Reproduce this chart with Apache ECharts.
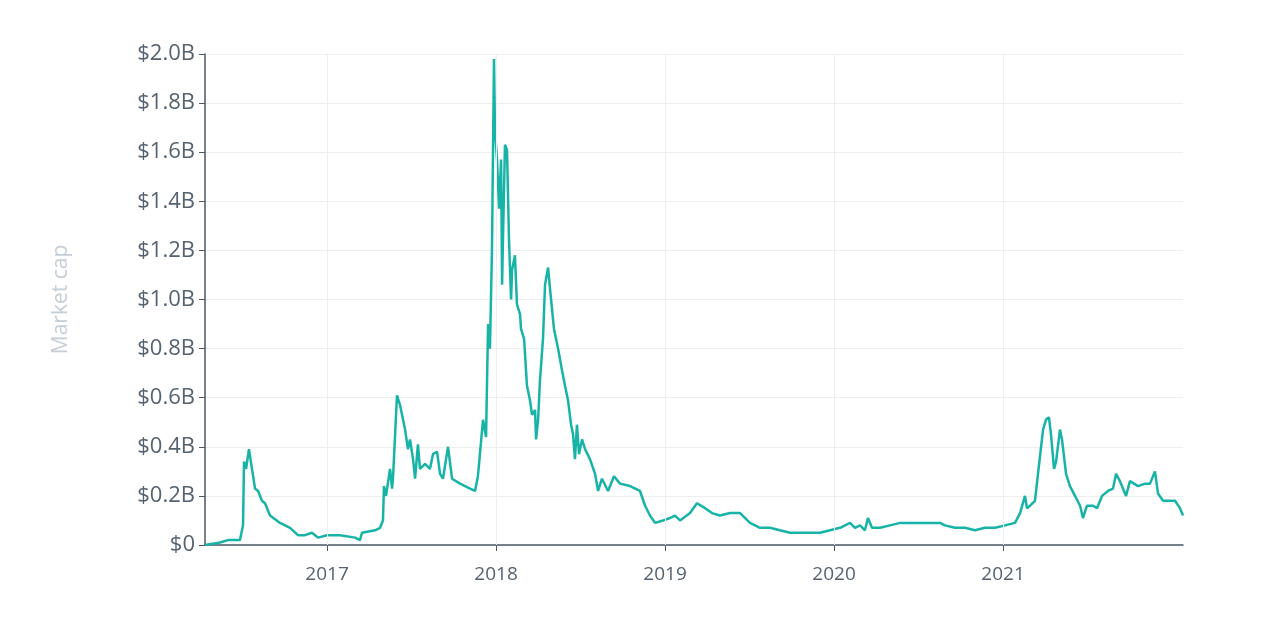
<!DOCTYPE html>
<html>
<head>
<meta charset="utf-8">
<script src="https://cdn.jsdelivr.net/npm/echarts@6/dist/echarts.min.js"></script>
<style>html,body{margin:0;padding:0;background:#fff}#chart{width:1280px;height:640px}</style>
</head>
<body>
<div id="chart"></div>
<script>
// decimal years
var years = [2016.278,2016.367,2016.414,2016.485,2016.503,2016.509,2016.521,2016.538,2016.556,2016.574,2016.592,2016.615,2016.633,2016.663,2016.722,2016.781,2016.828,2016.870,2016.911,2016.947,2017.000,2017.077,2017.166,2017.195,2017.207,2017.284,2017.314,2017.331,2017.337,2017.349,2017.373,2017.385,2017.391,2017.414,2017.432,2017.450,2017.462,2017.479,2017.491,2017.509,2017.521,2017.538,2017.550,2017.580,2017.609,2017.627,2017.651,2017.669,2017.686,2017.716,2017.740,2017.787,2017.846,2017.876,2017.893,2017.923,2017.941,2017.953,2017.964,2017.976,2017.988,2017.994,2018.006,2018.018,2018.030,2018.036,2018.041,2018.053,2018.065,2018.077,2018.089,2018.095,2018.112,2018.124,2018.142,2018.148,2018.166,2018.183,2018.201,2018.213,2018.231,2018.237,2018.249,2018.260,2018.278,2018.290,2018.308,2018.320,2018.343,2018.367,2018.391,2018.408,2018.426,2018.444,2018.456,2018.467,2018.479,2018.491,2018.509,2018.527,2018.556,2018.586,2018.604,2018.627,2018.663,2018.698,2018.734,2018.793,2018.852,2018.882,2018.911,2018.941,2018.988,2019.030,2019.059,2019.089,2019.148,2019.189,2019.237,2019.278,2019.325,2019.385,2019.444,2019.503,2019.562,2019.621,2019.680,2019.740,2019.799,2019.858,2019.917,2019.976,2020.036,2020.095,2020.124,2020.154,2020.183,2020.201,2020.225,2020.272,2020.331,2020.391,2020.450,2020.509,2020.568,2020.627,2020.657,2020.716,2020.775,2020.834,2020.893,2020.953,2021.012,2021.071,2021.101,2021.130,2021.142,2021.160,2021.189,2021.207,2021.237,2021.254,2021.272,2021.284,2021.302,2021.314,2021.337,2021.349,2021.373,2021.396,2021.426,2021.456,2021.473,2021.497,2021.533,2021.556,2021.586,2021.621,2021.651,2021.669,2021.692,2021.728,2021.751,2021.799,2021.840,2021.870,2021.899,2021.917,2021.947,2021.988,2022.018,2022.047,2022.065];
// market cap, billions of USD
var marketCap = [0.00,0.01,0.02,0.02,0.08,0.34,0.31,0.39,0.31,0.23,0.22,0.18,0.17,0.12,0.09,0.07,0.04,0.04,0.05,0.03,0.04,0.04,0.03,0.02,0.05,0.06,0.07,0.10,0.24,0.20,0.31,0.23,0.28,0.61,0.57,0.51,0.47,0.39,0.43,0.35,0.27,0.41,0.31,0.33,0.31,0.37,0.38,0.29,0.27,0.40,0.27,0.25,0.23,0.22,0.28,0.51,0.44,0.90,0.80,1.20,1.98,1.69,1.57,1.37,1.57,1.06,1.24,1.63,1.61,1.24,1.00,1.12,1.18,0.98,0.94,0.88,0.84,0.65,0.59,0.53,0.55,0.43,0.51,0.67,0.84,1.06,1.13,1.04,0.88,0.80,0.71,0.65,0.59,0.49,0.45,0.35,0.49,0.37,0.43,0.39,0.35,0.29,0.22,0.27,0.22,0.28,0.25,0.24,0.22,0.16,0.12,0.09,0.10,0.11,0.12,0.10,0.13,0.17,0.15,0.13,0.12,0.13,0.13,0.09,0.07,0.07,0.06,0.05,0.05,0.05,0.05,0.06,0.07,0.09,0.07,0.08,0.06,0.11,0.07,0.07,0.08,0.09,0.09,0.09,0.09,0.09,0.08,0.07,0.07,0.06,0.07,0.07,0.08,0.09,0.13,0.20,0.15,0.16,0.18,0.29,0.47,0.51,0.52,0.45,0.31,0.34,0.47,0.43,0.29,0.24,0.20,0.16,0.11,0.16,0.16,0.15,0.20,0.22,0.23,0.29,0.26,0.20,0.26,0.24,0.25,0.25,0.30,0.21,0.18,0.18,0.18,0.15,0.12];
var yearTicks = [2017, 2018, 2019, 2020, 2021];

var data = years.map(function (y, i) { return [y, marketCap[i]]; });

var myChart = echarts.init(document.getElementById('chart'));
myChart.setOption({
	animation: false,
	grid: { left: 205, right: 97, top: 54, bottom: 95 },
	xAxis: {
		type: 'value',
		min: 2016.278,
		max: 2022.065,
		axisLine: { lineStyle: { color: '#4a5866', width: 1.5 } },
		axisTick: { customValues: yearTicks, length: 6, lineStyle: { color: '#4a5866' } },
		axisLabel: {
			customValues: yearTicks, color: '#556270', fontSize: 19, margin: 20, fontFamily: 'Open Sans',
			formatter: function (v) { return String(v); }
		},
		splitLine: { show: false }
	},
	yAxis: {
		type: 'value',
		min: 0,
		max: 2,
		interval: 0.2,
		name: 'Market cap',
		nameLocation: 'middle',
		nameGap: 133,
		nameTextStyle: { color: '#c5ced6', fontSize: 21, fontFamily: 'Open Sans' },
		axisLine: { show: true, lineStyle: { color: '#4a5866', width: 1.5 } },
		axisTick: { show: true, length: 6, lineStyle: { color: '#4a5866' } },
		axisLabel: {
			color: '#556270', fontSize: 22, margin: 10, fontFamily: 'Open Sans',
			formatter: function (v) { return v === 0 ? '$0' : '$' + v.toFixed(1) + 'B'; }
		},
		splitLine: { lineStyle: { color: '#eeeeee' } }
	},
	series: [{
		type: 'line',
		data: data,
		showSymbol: false,
		lineStyle: { color: '#17b3a6', width: 2.5 },
		markLine: {
			silent: true, symbol: 'none', label: { show: false },
			lineStyle: { color: '#eeeeee', type: 'solid', width: 1 },
			data: yearTicks.map(function (y) { return { xAxis: y }; })
		},
		z: 3
	}]
});
</script>
</body>
</html>
